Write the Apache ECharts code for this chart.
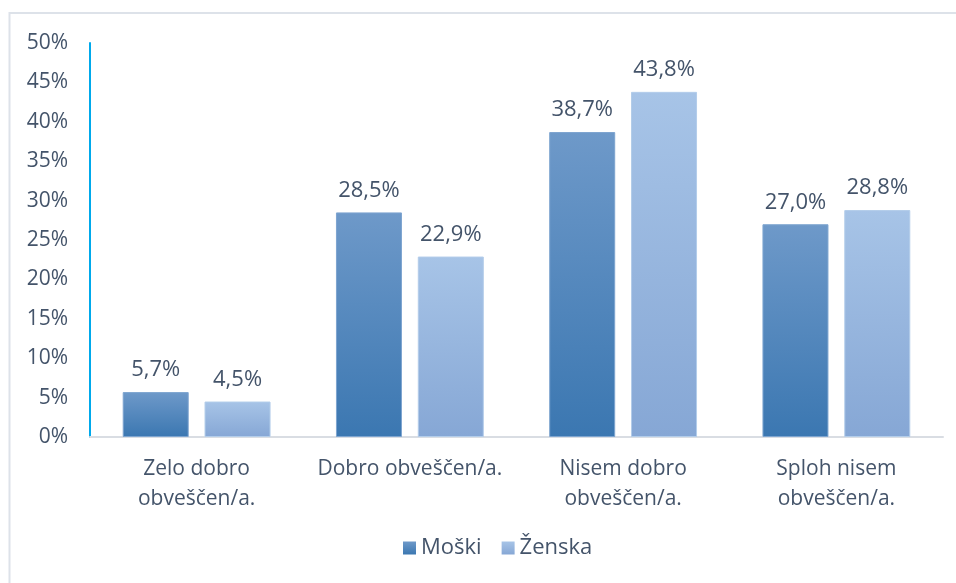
<!DOCTYPE html>
<html>
<head>
<meta charset="utf-8">
<script src="https://cdn.jsdelivr.net/npm/echarts@6/dist/echarts.min.js"></script>
<style>
	html, body { margin: 0; padding: 0; background: #fff; }
	#chart { width: 956px; height: 583px; }
</style>
</head>
<body>
<div id="chart"></div>
<script>
var categories = ['Zelo dobro\nobveščen/a.', 'Dobro obveščen/a.', 'Nisem dobro\nobveščen/a.', 'Sploh nisem\nobveščen/a.'];
var moski = [5.7, 28.5, 38.7, 27.0];
var zenska = [4.5, 22.9, 43.8, 28.8];
var seriesNames = ['Moški', 'Ženska'];

var textColor = '#44546a';
var font = '"Open Sans", sans-serif';

function grad(top, bottom) {
	return new echarts.graphic.LinearGradient(0, 0, 0, 1, [
		{ offset: 0, color: top },
		{ offset: 1, color: bottom }
	]);
}

function fmt(p) {
	return p.value.toFixed(1).replace('.', ',') + '%';
}

var labelStyle = {
	show : true,
	position : 'top',
	distance : 11,
	color : textColor,
	fontSize : 22,
	fontFamily : font,
	formatter : fmt
};

var myChart = echarts.init(document.getElementById('chart'));

myChart.setOption({
	animation : false,
	graphic : [ {
		type : 'rect',
		shape : { x : 9.5, y : 13, width : 1000, height : 700 },
		style : { fill : 'none', stroke : '#dde2e9', lineWidth : 2 },
		silent : true
	} ],
	grid : { left : 90, right : 13, top : 43, bottom : 146 },
	legend : {
		data : seriesNames,
		bottom : 19,
		left : 398,
		itemWidth : 13,
		itemHeight : 13,
		itemGap : 20,
		icon : 'rect',
		itemStyle : { borderWidth : 0 },
		textStyle : { color : textColor, fontSize : 22, fontFamily : font }
	},
	xAxis : {
		type : 'category',
		data : categories,
		axisLine : { lineStyle : { color : '#d9dde3', width : 2 } },
		axisTick : { show : false },
		axisLabel : {
			color : textColor,
			fontSize : 21,
			fontFamily : font,
			lineHeight : 30,
			margin : 17,
			interval : 0
		}
	},
	yAxis : {
		type : 'value',
		min : 0,
		max : 50,
		interval : 5,
		axisLine : { show : true, lineStyle : { color : '#00a9ec', width : 2 } },
		axisTick : { show : false },
		splitLine : { show : false },
		axisLabel : {
			color : textColor,
			fontSize : 21,
			fontFamily : font,
			margin : 22,
			formatter : '{value}%'
		}
	},
	series : [ {
		name : seriesNames[0],
		type : 'bar',
		data : moski,
		barWidth : 66,
		barGap : '24%',
		itemStyle : {
			color : grad('#6e99c9', '#3b77b1'),
			borderColor : '#7ea5d0',
			borderWidth : 1
		},
		label : labelStyle
	}, {
		name : seriesNames[1],
		type : 'bar',
		data : zenska,
		barWidth : 66,
		itemStyle : {
			color : grad('#a7c4e7', '#86a7d5'),
			borderColor : '#b3cdea',
			borderWidth : 1
		},
		label : labelStyle
	} ]
});
</script>
</body>
</html>
